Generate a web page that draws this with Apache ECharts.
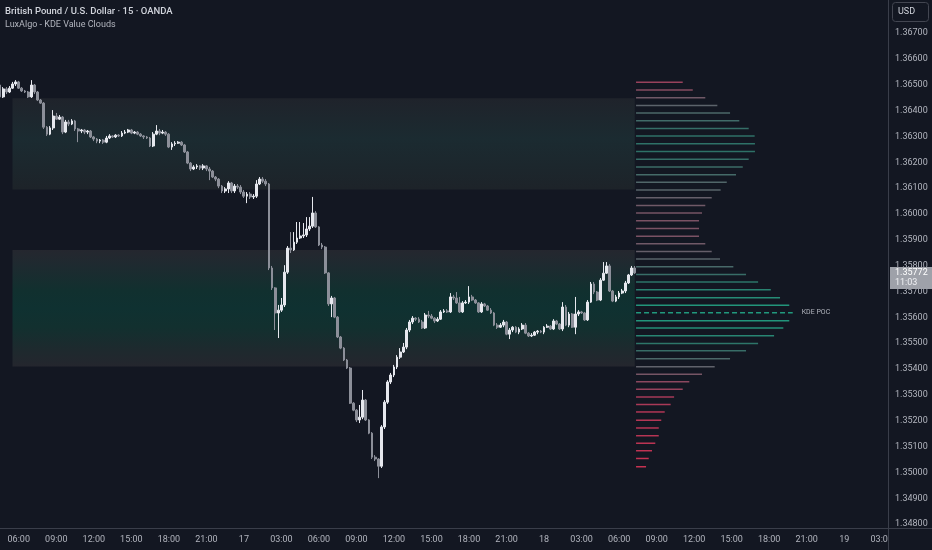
<!DOCTYPE html>
<html><head><meta charset="utf-8">
<script src="https://cdn.jsdelivr.net/npm/echarts@6/dist/echarts.min.js"></script>
<style>html,body{margin:0;padding:0;background:#131722}#c{width:932px;height:550px}</style>
</head><body><div id="c"></div>
<script>
// ---- time grid (15-minute bars, 16th 04:30 → 19th 03:30) ----
const startDay = 16, startMinute = 270, stepMinutes = 15, slotCount = 285;
const times = [];
for (let k = 0; k < slotCount; k++) {
  const m = startMinute + k * stepMinutes;
  const d = startDay + Math.floor(m / 1440), mm = m % 1440;
  times.push(d + ' ' + String(Math.floor(mm / 60)).padStart(2, '0') + ':' + String(mm % 60).padStart(2, '0'));
}

// ---- GBPUSD 15m candles ----
const firstOpen = 1.36499;
const closes = [
1.36453,1.36484,1.36472,1.36487,1.36503,1.36511,1.36487,1.36476,1.36472,1.36453,
1.36499,1.36472,1.36441,1.36429,1.36336,1.36309,1.36333,1.36379,1.36367,1.36375,
1.36317,1.36356,1.36348,1.36360,1.36329,1.36321,1.36325,1.36317,1.36321,1.36298,
1.36290,1.36282,1.36286,1.36278,1.36294,1.36302,1.36298,1.36305,1.36302,1.36313,
1.36317,1.36325,1.36313,1.36317,1.36309,1.36302,1.36298,1.36294,1.36263,1.36309,
1.36321,1.36313,1.36317,1.36309,1.36259,1.36271,1.36274,1.36278,1.36267,1.36240,
1.36197,1.36174,1.36182,1.36186,1.36178,1.36186,1.36174,1.36166,1.36143,1.36135,
1.36108,1.36089,1.36097,1.36120,1.36089,1.36108,1.36104,1.36085,1.36069,1.36077,
1.36066,1.36069,1.36116,1.36135,1.36127,1.36116,1.35791,1.35714,1.35617,1.35628,
1.35648,1.35775,1.35868,1.35861,1.35891,1.35907,1.35915,1.35919,1.35942,1.35953,
1.36004,1.35950,1.35880,1.35872,1.35772,1.35652,1.35675,1.35601,1.35524,1.35481,
1.35435,1.35404,1.35268,1.35241,1.35203,1.35214,1.35280,1.35203,1.35152,1.35059,
1.35052,1.35024,1.35176,1.35272,1.35350,1.35377,1.35408,1.35446,1.35466,1.35485,
1.35551,1.35582,1.35597,1.35593,1.35582,1.35559,1.35609,1.35605,1.35597,1.35586,
1.35593,1.35621,1.35625,1.35621,1.35679,1.35675,1.35656,1.35621,1.35656,1.35659,
1.35679,1.35667,1.35656,1.35621,1.35652,1.35644,1.35628,1.35617,1.35570,1.35562,
1.35570,1.35582,1.35535,1.35551,1.35562,1.35543,1.35555,1.35570,1.35539,1.35528,
1.35531,1.35543,1.35547,1.35543,1.35562,1.35566,1.35555,1.35586,1.35574,1.35555,
1.35640,1.35570,1.35613,1.35562,1.35613,1.35621,1.35617,1.35590,1.35659,1.35729,
1.35698,1.35667,1.35744,1.35771,1.35799,1.35702,1.35663,1.35679,1.35694,1.35702,
1.35733,1.35764,1.35791,1.35772];
const highs = [
1.36507,1.36491,1.36491,1.36495,1.36511,1.36518,1.36515,1.36491,1.36480,1.36476,
1.36518,1.36503,1.36476,1.36445,1.36433,1.36340,1.36340,1.36402,1.36391,1.36383,
1.36379,1.36364,1.36364,1.36367,1.36364,1.36333,1.36329,1.36329,1.36325,1.36325,
1.36302,1.36294,1.36290,1.36290,1.36302,1.36309,1.36305,1.36309,1.36309,1.36321,
1.36325,1.36329,1.36329,1.36321,1.36321,1.36313,1.36305,1.36302,1.36298,1.36317,
1.36344,1.36329,1.36325,1.36321,1.36313,1.36278,1.36282,1.36282,1.36282,1.36271,
1.36244,1.36201,1.36189,1.36193,1.36189,1.36193,1.36189,1.36182,1.36170,1.36147,
1.36139,1.36112,1.36104,1.36127,1.36124,1.36116,1.36116,1.36112,1.36093,1.36085,
1.36085,1.36077,1.36131,1.36143,1.36143,1.36135,1.36120,1.35799,1.35717,1.35648,
1.35675,1.35802,1.35876,1.35930,1.35930,1.35969,1.35969,1.35965,1.35988,1.35988,
1.36066,1.36011,1.35953,1.35888,1.35876,1.35775,1.35683,1.35679,1.35605,1.35528,
1.35485,1.35439,1.35408,1.35272,1.35245,1.35261,1.35319,1.35284,1.35206,1.35156,
1.35067,1.35055,1.35183,1.35280,1.35357,1.35385,1.35416,1.35454,1.35481,1.35501,
1.35559,1.35590,1.35605,1.35601,1.35601,1.35590,1.35617,1.35625,1.35613,1.35601,
1.35601,1.35628,1.35632,1.35632,1.35694,1.35687,1.35698,1.35679,1.35663,1.35667,
1.35721,1.35687,1.35671,1.35659,1.35659,1.35656,1.35648,1.35636,1.35621,1.35578,
1.35578,1.35590,1.35586,1.35559,1.35566,1.35566,1.35562,1.35578,1.35578,1.35543,
1.35539,1.35547,1.35551,1.35551,1.35566,1.35574,1.35570,1.35593,1.35590,1.35578,
1.35659,1.35648,1.35621,1.35617,1.35679,1.35628,1.35625,1.35621,1.35667,1.35737,
1.35737,1.35702,1.35752,1.35814,1.35814,1.35806,1.35706,1.35687,1.35702,1.35710,
1.35741,1.35768,1.35799,1.35799];
const lows = [
1.36414,1.36449,1.36464,1.36468,1.36484,1.36495,1.36484,1.36472,1.36468,1.36449,
1.36449,1.36464,1.36437,1.36426,1.36329,1.36302,1.36305,1.36325,1.36364,1.36364,
1.36309,1.36313,1.36340,1.36344,1.36321,1.36278,1.36313,1.36309,1.36309,1.36294,
1.36282,1.36274,1.36274,1.36271,1.36274,1.36290,1.36294,1.36294,1.36298,1.36298,
1.36309,1.36313,1.36309,1.36309,1.36305,1.36298,1.36290,1.36290,1.36259,1.36259,
1.36305,1.36305,1.36309,1.36302,1.36255,1.36248,1.36263,1.36271,1.36263,1.36236,
1.36193,1.36166,1.36170,1.36174,1.36170,1.36170,1.36166,1.36131,1.36139,1.36127,
1.36100,1.36081,1.36081,1.36081,1.36081,1.36081,1.36097,1.36077,1.36062,1.36042,
1.36058,1.36058,1.36062,1.36112,1.36120,1.36108,1.35783,1.35706,1.35551,1.35520,
1.35621,1.35640,1.35768,1.35849,1.35857,1.35884,1.35903,1.35907,1.35911,1.35934,
1.35946,1.35946,1.35876,1.35864,1.35768,1.35644,1.35601,1.35597,1.35520,1.35477,
1.35431,1.35400,1.35265,1.35237,1.35195,1.35191,1.35206,1.35199,1.35148,1.35052,
1.35044,1.34978,1.35017,1.35168,1.35265,1.35342,1.35369,1.35400,1.35439,1.35462,
1.35477,1.35543,1.35574,1.35586,1.35578,1.35555,1.35555,1.35597,1.35593,1.35578,
1.35582,1.35590,1.35617,1.35617,1.35617,1.35667,1.35652,1.35617,1.35617,1.35652,
1.35652,1.35663,1.35652,1.35617,1.35617,1.35640,1.35625,1.35613,1.35566,1.35555,
1.35559,1.35562,1.35531,1.35516,1.35543,1.35539,1.35535,1.35551,1.35535,1.35524,
1.35524,1.35528,1.35535,1.35539,1.35535,1.35559,1.35551,1.35551,1.35570,1.35551,
1.35547,1.35566,1.35562,1.35559,1.35535,1.35605,1.35613,1.35586,1.35586,1.35656,
1.35690,1.35663,1.35663,1.35741,1.35768,1.35698,1.35659,1.35659,1.35671,1.35690,
1.35694,1.35729,1.35760,1.35768];
// each FX bar opens at the previous bar's close
const opens = [firstOpen].concat(closes.slice(0, -1));

// ---- KDE value clouds (price bounds) and their time span ----
const cloudUpper = [1.36448, 1.36095];
const cloudLower = [1.35861, 1.35410];
const cloudFrom = '16 05:30', cloudTo = '18 07:15';

// ---- KDE profile: price levels and normalised density ----
const kdeLevels = [
1.36510,1.36480,1.36450,1.36420,1.36391,1.36361,1.36331,1.36302,1.36272,1.36242,
1.36212,1.36182,1.36152,1.36123,1.36093,1.36063,1.36033,1.36004,1.35974,1.35944,
1.35914,1.35885,1.35855,1.35826,1.35796,1.35766,1.35737,1.35707,1.35676,1.35647,
1.35618,1.35587,1.35559,1.35529,1.35499,1.35471,1.35440,1.35409,1.35380,1.35351,
1.35322,1.35292,1.35263,1.35234,1.35202,1.35172,1.35142,1.35113,1.35084,1.35054,
1.35022];
const kdeDensity = [
0.298,0.362,0.442,0.519,0.600,0.659,0.719,0.757,0.759,0.759,
0.719,0.681,0.638,0.579,0.540,0.483,0.442,0.421,0.402,0.402,
0.402,0.442,0.483,0.536,0.621,0.702,0.779,0.860,0.919,0.978,
1.000,0.978,0.940,0.881,0.779,0.702,0.600,0.502,0.421,0.340,
0.298,0.243,0.221,0.183,0.161,0.145,0.145,0.123,0.102,0.081,
0.064];

// ---- price axis tick labels ----
const yTicks = [1.348,1.349,1.350,1.351,1.352,1.353,1.354,1.355,1.356,1.357,
                1.358,1.359,1.360,1.361,1.362,1.363,1.364,1.365,1.366,1.367];

const lastClose = closes[closes.length - 1];
const countdown = '11:03';
let pocIndex = 0;
kdeDensity.forEach((d, i) => { if (d > kdeDensity[pocIndex]) pocIndex = i; });

const candleData = closes.map((c, i) => [opens[i], c, lows[i], highs[i]]);
const profileData = kdeLevels.map((p, i) => [kdeDensity[i], p]);

const BG = '#131722';
const FONT = 'Roboto';
const grad = (stops) => ({type: 'linear', x: 0, y: 0, x2: 0, y2: 1, colorStops: stops.map(s => ({offset: s[0], color: s[1]}))});

const chart = echarts.init(document.getElementById('c'), null, {renderer: 'canvas'});
const graphics = [
  {id: 'vsep', type: 'line', z: 60, shape: {x1: 888.5, y1: 0, x2: 888.5, y2: 550}, style: {stroke: '#3a3e4a', lineWidth: 1}},
  {id: 'cover', type: 'rect', z: 50, shape: {x: 889, y: 529, width: 43, height: 21}, style: {fill: BG}},
  {id: 'hsep', type: 'line', z: 60, shape: {x1: 0, y1: 528.5, x2: 932, y2: 528.5}, style: {stroke: '#3a3e4a', lineWidth: 1}},
  {id: 'usdbox', type: 'rect', z: 60, shape: {x: 892.5, y: 2.5, width: 36, height: 19, r: 3}, style: {fill: BG, stroke: '#434651', lineWidth: 1}},
  {id: 'usdtxt', type: 'text', z: 61, style: {text: 'USD', x: 898, y: 12, verticalAlign: 'middle', fill: '#d1d4dc', font: '9px "' + FONT + '"'}}
];

const option = {
  backgroundColor: BG,
  animation: false,
  textStyle: {fontFamily: FONT},
  title: [
    {text: 'British Pound / U.S. Dollar · 15 · OANDA', left: 5, top: 7, padding: 0,
     textStyle: {color: '#d1d4dc', fontSize: 9.5, fontWeight: 500, fontFamily: FONT}},
    {text: 'LuxAlgo - KDE Value Clouds', left: 5, top: 20, padding: 0,
     textStyle: {color: '#b2b5be', fontSize: 9, fontWeight: 400, fontFamily: FONT}}
  ],
  grid: {left: 0, right: 44, top: 0, bottom: 22},
  xAxis: [
    {type: 'category', data: times, boundaryGap: false,
     axisLine: {show: false}, axisTick: {show: false}, splitLine: {show: false},
     axisLabel: {
       interval: (idx, v) => v.slice(6) === '00' && (parseInt(v.slice(3, 5), 10) % 3 === 0),
       formatter: v => v.slice(3) === '00:00' ? v.slice(0, 2) : v.slice(3),
       color: '#b2b5be', fontSize: 9, margin: 7, fontFamily: FONT
     }},
    {type: 'value', min: -4.059, max: 1.608, show: false}
  ],
  yAxis: [{
    type: 'value', position: 'right', min: 1.34785, max: 1.36828, scale: true,
    axisLine: {show: false}, axisTick: {show: false}, splitLine: {show: false},
    axisLabel: {customValues: yTicks, formatter: v => v.toFixed(5), color: '#b2b5be', fontSize: 9, margin: 7, fontFamily: FONT}
  }],
  visualMap: {
    type: 'continuous', show: false, seriesIndex: 1, dimension: 0, min: 0, max: 1,
    inRange: {color: ['#d12f4f', '#a53a58', '#60626b', '#2f7066', '#21997d']}
  },
  series: [
    {
      type: 'candlestick', xAxisIndex: 0, yAxisIndex: 0, data: candleData, barWidth: 2.3,
      itemStyle: {color: '#e6e8ee', color0: '#8c8f99', borderColor: '#e6e8ee', borderColor0: '#8c8f99', borderWidth: 1},
      markArea: {
        silent: true,
        data: [
          [{coord: [cloudFrom, cloudUpper[0]], itemStyle: {color: grad([[0, '#1f232b'], [0.45, '#1b2b31'], [1, '#1d2329']])}},
           {coord: [cloudTo, cloudUpper[1]]}],
          [{coord: [cloudFrom, cloudLower[0]], itemStyle: {color: grad([[0, '#25272f'], [0.12, '#1f2a30'], [0.35, '#11302f'], [0.5, '#0f3131'], [0.66, '#12302f'], [0.88, '#1f292e'], [1, '#24262e']])}},
           {coord: [cloudTo, cloudLower[1]]}]
        ]
      }
    },
    {
      type: 'custom', xAxisIndex: 1, yAxisIndex: 0, data: profileData, encode: {x: 0, y: 1},
      renderItem: function (params, api) {
        const d = api.value(0), p = api.value(1);
        const a = api.coord([0, p]), b = api.coord([d, p]);
        const col = api.visual('color');
        const isPoc = params.dataIndex === pocIndex;
        const children = [{type: 'line', shape: {x1: a[0], y1: a[1], x2: b[0], y2: b[1]},
          style: {stroke: col, lineWidth: 1.5, lineDash: isPoc ? [5, 3] : null}}];
        if (isPoc) children.push({type: 'text', style: {text: 'KDE POC', x: b[0] + 9, y: b[1], fill: '#b2b5be', fontSize: 7, fontFamily: FONT, verticalAlign: 'middle'}});
        return {type: 'group', children: children};
      }
    }
  ],
  graphic: graphics
};
chart.setOption(option);

const yPx = chart.convertToPixel({yAxisIndex: 0}, lastClose);
chart.setOption({graphic: graphics.concat([
  {id: 'pbox', type: 'rect', z: 70, shape: {x: 890, y: yPx - 6, width: 42, height: 22}, style: {fill: '#9ea1a9'}},
  {id: 'ptxt', type: 'text', z: 71, style: {text: lastClose.toFixed(5), x: 895, y: yPx, verticalAlign: 'middle', fill: '#ffffff', font: '9px "' + FONT + '"'}},
  {id: 'ctxt', type: 'text', z: 71, style: {text: countdown, x: 895, y: yPx + 10, verticalAlign: 'middle', fill: '#f0f1f4', font: '9px "' + FONT + '"'}}
])});
</script></body></html>
